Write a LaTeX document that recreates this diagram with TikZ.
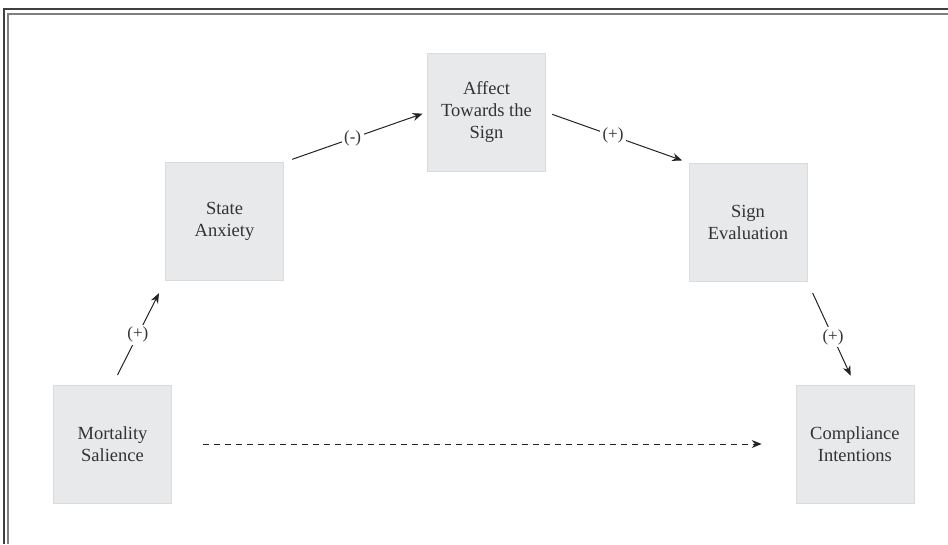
\documentclass[tikz,border=0pt]{standalone}
\usepackage{fontspec}
\setmainfont{Liberation Serif}
\usetikzlibrary{arrows.meta, positioning}
\definecolor{boxgray}{RGB}{232,233,235}
\definecolor{boxline}{RGB}{218,219,221}
\definecolor{inkgray}{RGB}{35,35,35}

\begin{document}
\begin{tikzpicture}[
    x=1pt, y=-1pt,
    box/.style={rectangle, draw=boxline, fill=boxgray, minimum width=118pt, minimum height=118pt,
                inner sep=2pt, align=center, font=\fontsize{18.5}{22}\selectfont, text=black!80},
    arrow/.style={-{Stealth[length=10pt, width=8pt]}, inkgray, line width=1pt},
    sign/.style={fill=white, inner sep=2.5pt, font=\fontsize{17}{20}\selectfont, text=black!80},
]
\useasboundingbox (0,0) rectangle (948,544);

% ── Frame ──
\draw[black!75, line width=1.8pt] (948,9) -- (4,9) -- (4,544);
\draw[black!50, line width=1.6pt] (948,14) -- (8,14) -- (8,544);

% ── Boxes ──
\node[box] (ms) at (112.5,444) {Mortality\\Salience};
\node[box] (sa) at (224.5,221.5) {State\\Anxiety};
\node[box] (af) at (486.5,112) {Affect\\Towards the\\Sign};
\node[box] (se) at (748,222) {Sign\\Evaluation};
\node[box, right=624pt of ms] (ci) {Compliance\\Intentions};

% ── Arrows ──
\draw[arrow, shorten <=11pt, shorten >=14pt] (ms.north) -- node[sign, pos=0.48] (s1) {(+)} (sa.south west);
\draw[arrow, shorten <=9pt, shorten >=5pt] (sa.north east) -- node[sign, pos=0.48] (s2) {(-)} (af.west);
\draw[arrow, shorten <=7pt, shorten >=7pt] (af.east) -- node[sign, pos=0.47] (s3) {(+)} (se.north west);
\draw[arrow, shorten <=13pt, shorten >=10pt] (se.south east) -- node[sign, pos=0.54] (s4) {(+)} (ci.north);
\draw[arrow, dash pattern=on 6pt off 5pt, shorten <=31pt, shorten >=34pt] (ms.east) -- (ci.west);

\end{tikzpicture}
\end{document}
